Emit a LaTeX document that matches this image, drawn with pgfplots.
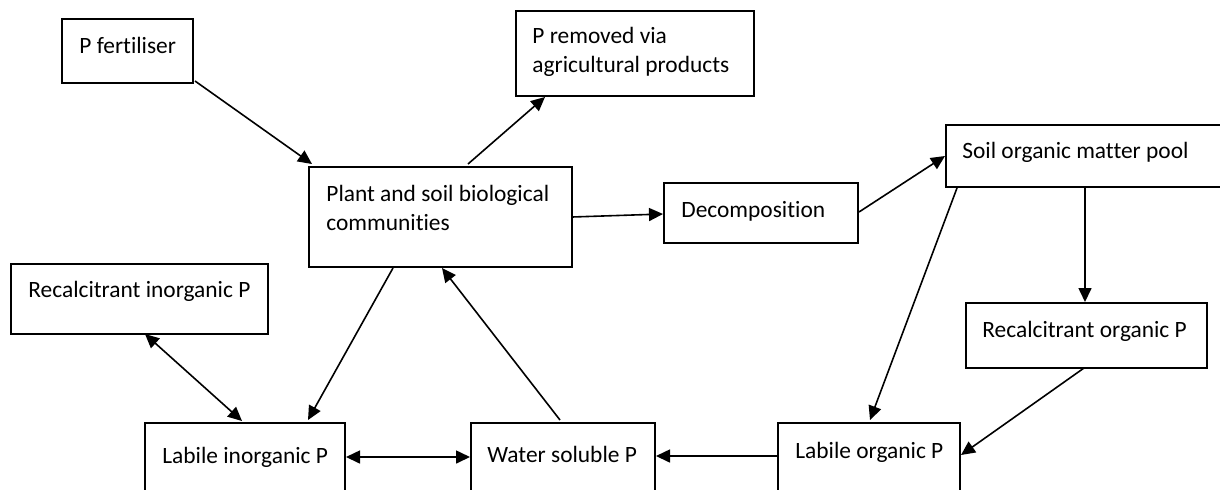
\documentclass[border=0pt]{standalone}
\usepackage{fontspec}
\setmainfont{Carlito}[RawFeature={-liga}]
\usepackage{pgfplots}
\pgfplotsset{compat=1.18}
\usetikzlibrary{arrows.meta}

% one unit = one pixel of the 1220x489 reference, y counted downwards
\pgfplotsset{
  boxline/.style={black,line width=1pt,line join=miter},
  arr/.style={black,line width=0.8pt,-{Triangle[length=7pt,width=6.5pt]}},
  darr/.style={black,line width=0.8pt,{Triangle[length=7pt,width=6.5pt]}-{Triangle[length=7pt,width=6.5pt]}},
}
\tikzset{lab/.style={anchor=base west,inner sep=0pt,font=\fontsize{11.7}{14.5}\selectfont}}

\begin{document}
\begin{tikzpicture}
\begin{axis}[
  scale only axis,width=610pt,height=244.5pt,
  xmin=0,xmax=1220,ymin=0,ymax=489,y dir=reverse,
  hide axis,clip=true
]
% boxes
\addplot[boxline] coordinates {(62,19)(193,19)(193,83)(62,83)} -- cycle;
\addplot[boxline] coordinates {(516,11)(754,11)(754,96)(516,96)} -- cycle;
\addplot[boxline] coordinates {(309,167)(572,167)(572,267)(309,267)} -- cycle;
\addplot[boxline] coordinates {(664,183)(858,183)(858,243)(664,243)} -- cycle;
\addplot[boxline] coordinates {(946,125)(1226,125)(1226,187)(946,187)} -- cycle;
\addplot[boxline] coordinates {(11,264)(268,264)(268,334)(11,334)} -- cycle;
\addplot[boxline] coordinates {(966,303)(1207,303)(1207,368)(966,368)} -- cycle;
\addplot[boxline] coordinates {(145,500)(145,423)(345,423)(345,500)};
\addplot[boxline] coordinates {(471,500)(471,423)(655,423)(655,500)};
\addplot[boxline] coordinates {(778,500)(778,423)(960,423)(960,500)};

% arrows
\addplot[arr] coordinates {(195,81)(312,164)};
\addplot[arr] coordinates {(468,164)(545,97)};
\addplot[arr] coordinates {(572,217)(663,214)};
\addplot[arr] coordinates {(859,212)(945,156)};
\addplot[arr] coordinates {(1085,187)(1085,302)};
\addplot[arr] coordinates {(957,188)(870,420)};
\addplot[arr] coordinates {(1084,368)(961,455)};
\addplot[arr] coordinates {(778,456)(656,456)};
\addplot[darr] coordinates {(346,457)(470,457)};
\addplot[arr] coordinates {(560,420)(442,268)};
\addplot[arr] coordinates {(393,268)(308,420)};
\addplot[darr] coordinates {(145,334)(242,421)};

% labels
\node[lab] at (axis cs:79,53) {P fertiliser};
\node[lab] at (axis cs:532,43) {P removed via};
\node[lab] at (axis cs:532,72) {agricultural products};
\node[lab] at (axis cs:326,201) {Plant and soil biological};
\node[lab] at (axis cs:326,230) {communities};
\node[lab] at (axis cs:681,217) {Decomposition};
\node[lab] at (axis cs:962,158) {Soil organic matter pool};
\node[lab] at (axis cs:28,297) {Recalcitrant inorganic P};
\node[lab] at (axis cs:982,337) {Recalcitrant organic P};
\node[lab] at (axis cs:162,463) {Labile inorganic P};
\node[lab] at (axis cs:487,462) {Water soluble P};
\node[lab] at (axis cs:795,458) {Labile organic P};
\end{axis}
\pgfresetboundingbox
\path (current axis.south west) rectangle (current axis.north east);
\end{tikzpicture}
\end{document}
